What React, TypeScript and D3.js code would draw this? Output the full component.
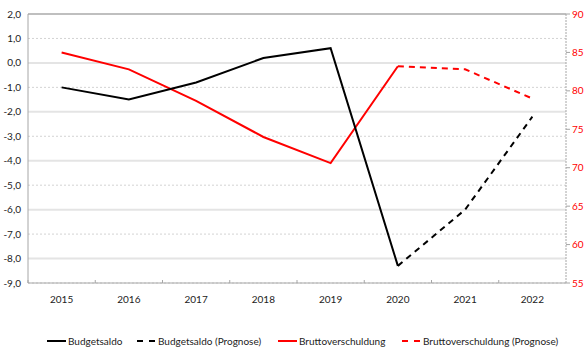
import { line, scaleBand, scaleLinear } from "d3";

const WIDTH = 588;
const HEIGHT = 354;

const years = ["2015", "2016", "2017", "2018", "2019", "2020", "2021", "2022"];
const budgetsaldo = [-1.0, -1.5, -0.8, 0.2, 0.6, -8.3, null, null];
const budgetsaldoPrognose = [null, null, null, null, null, -8.3, -6.0, -2.2];
const brutto = [85.0, 82.8, 78.7, 74.0, 70.6, 83.2, null, null];
const bruttoPrognose = [null, null, null, null, null, 83.2, 82.8, 79.0];

const leftTicks = [2, 1, 0, -1, -2, -3, -4, -5, -6, -7, -8, -9];
const rightTicks = [90, 85, 80, 75, 70, 65, 60, 55];

const legendItems = [
  { label: "Budgetsaldo", color: "#000", dash: "", x: 47 },
  { label: "Budgetsaldo (Prognose)", color: "#000", dash: "6,6", x: 137 },
  { label: "Bruttoverschuldung", color: "#ff0000", dash: "", x: 278 },
  { label: "Bruttoverschuldung (Prognose)", color: "#ff0000", dash: "6,6", x: 402 },
];

const FONT = "Lato, 'Open Sans', sans-serif";

export default function App() {
  const left = 28;
  const right = 566;
  const top = 14;
  const bottom = 283;

  const x = scaleBand().domain(years).range([left, right]);
  const yL = scaleLinear().domain([-9, 2]).range([bottom, top]);
  const yR = scaleLinear().domain([55, 90]).range([bottom, top]);
  const cx = (i: number) => (x(years[i]) ?? 0) + x.bandwidth() / 2;

  const lineL = line<number | null>()
    .defined((d) => d != null)
    .x((_, i) => cx(i))
    .y((d) => yL(d as number));
  const lineR = line<number | null>()
    .defined((d) => d != null)
    .x((_, i) => cx(i))
    .y((d) => yR(d as number));

  return (
    <svg width={WIDTH} height={HEIGHT} style={{ position: "absolute", left: 0, top: 0, background: "#fff" }} fontFamily={FONT}>
      {/* minor gridlines */}
      {leftTicks.filter((t) => t % 2 !== 0).map((t) => (
        <line key={"m" + t} x1={left} x2={right} y1={yL(t)} y2={yL(t)} stroke="#c8c8c8" strokeWidth={0.8} strokeDasharray="2,2" />
      ))}
      {/* major gridlines */}
      {leftTicks.filter((t) => t % 2 === 0 && t !== -9 && t !== 2).map((t) => (
        <line key={"M" + t} x1={left} x2={right} y1={yL(t)} y2={yL(t)} stroke="#e4e4e4" strokeWidth={2} />
      ))}
      <line x1={left} x2={right} y1={top} y2={top} stroke="#bfbfbf" strokeWidth={2} />
      {/* axes */}
      <line x1={left} x2={left} y1={top} y2={bottom} stroke="#a6a6a6" />
      <line x1={right} x2={right} y1={top} y2={bottom} stroke="#a6a6a6" strokeDasharray="2,1" />
      <line x1={left} x2={right} y1={bottom} y2={bottom} stroke="#a6a6a6" />
      {years.map((yr) => (
        <line key={"xt" + yr} x1={x(yr)} x2={x(yr)} y1={bottom} y2={bottom - 3} stroke="#a6a6a6" />
      ))}
      {rightTicks.map((t) => (
        <line key={"rt" + t} x1={right} x2={right + 4} y1={yR(t)} y2={yR(t)} stroke="#a6a6a6" />
      ))}

      {/* tick labels */}
      {leftTicks.map((t) => (
        <text key={"lt" + t} x={21} y={yL(t)} dy="0.35em" textAnchor="end" fontSize={10} fill="#222">
          {t.toFixed(1).replace(".", ",")}
        </text>
      ))}
      {rightTicks.map((t) => (
        <text key={"rl" + t} x={572} y={yR(t)} dy="0.35em" textAnchor="start" fontSize={10} fill="#ff0000">
          {t}
        </text>
      ))}
      {years.map((yr, i) => (
        <text key={"xl" + yr} x={cx(i)} y={299} dy="0.35em" textAnchor="middle" fontSize={10} fill="#222">
          {yr}
        </text>
      ))}

      {/* series */}
      <path d={lineR(brutto) ?? ""} fill="none" stroke="#ff0000" strokeWidth={2} />
      <path d={lineR(bruttoPrognose) ?? ""} fill="none" stroke="#ff0000" strokeWidth={2} strokeDasharray="6,5" />
      <path d={lineL(budgetsaldo) ?? ""} fill="none" stroke="#000" strokeWidth={2} />
      <path d={lineL(budgetsaldoPrognose) ?? ""} fill="none" stroke="#000" strokeWidth={2} strokeDasharray="6,5" />

      {/* legend */}
      {legendItems.map((item) => (
        <g key={item.label} transform={`translate(${item.x},341)`}>
          <line x1={0} x2={19} y1={0} y2={0} stroke={item.color} strokeWidth={2} strokeDasharray={item.dash} />
          <text x={21} y={0} dy="0.35em" fontSize={10} fill="#222">{item.label}</text>
        </g>
      ))}
    </svg>
  );
}
